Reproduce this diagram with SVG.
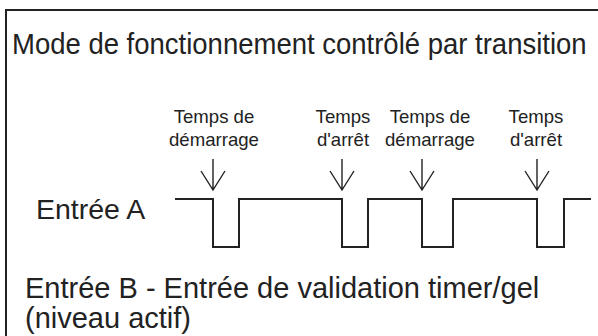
<svg xmlns="http://www.w3.org/2000/svg" width="598" height="336" viewBox="0 0 598 336">
<style>
.t{font-family:"Liberation Sans",Arial,Helvetica,sans-serif;fill:#222}
.big{font-size:27.5px}
.sm{font-size:18.6px;text-anchor:middle}
.ln{fill:none;stroke:#222;stroke-width:2}
.ar{fill:none;stroke:#222;stroke-width:1.4}
</style>
<defs>
<g id="arrow"><path class="ar" d="M0,-31 V0 M-12,-19 L0,0 L12,-19"/></g>
</defs>
<rect width="598" height="336" fill="#fff"/>
<path class="ln" d="M6,336 V10 H598"/>
<g id="title" transform="translate(12,54) scale(1,1.06)"><text class="t big" x="0" y="0">Mode de fonctionnement contrôlé par transition</text></g>
<g id="label1"><text class="t sm" x="214" y="123">Temps de</text><text class="t sm" x="214" y="146">démarrage</text></g>
<g id="label2"><text class="t sm" x="343" y="123">Temps</text><text class="t sm" x="343" y="146">d'arrêt</text></g>
<g id="label3"><text class="t sm" x="430" y="123">Temps de</text><text class="t sm" x="430" y="146">démarrage</text></g>
<g id="label4"><text class="t sm" x="536" y="123">Temps</text><text class="t sm" x="536" y="146">d'arrêt</text></g>
<g id="connectors">
<use href="#arrow" x="213" y="190"/>
<use href="#arrow" x="342" y="190"/>
<use href="#arrow" x="422" y="190"/>
<use href="#arrow" x="537" y="190"/>
</g>
<g id="entreeA">
<text class="t big" x="36" y="219" style="font-size:28.5px">Entrée A</text>
<path class="ln" d="M175,199 H213 V247 H239 V199 H342 V247 H368 V199 H422 V247 H453 V199 H537 V247 H564 V199 H591"/>
</g>
<g id="entreeB">
<text class="t big" x="25" y="298" style="font-size:29px">Entrée B - Entrée de validation timer/gel</text>
<text class="t big" x="25" y="328" style="font-size:29px">(niveau actif)</text>
</g>
</svg>
